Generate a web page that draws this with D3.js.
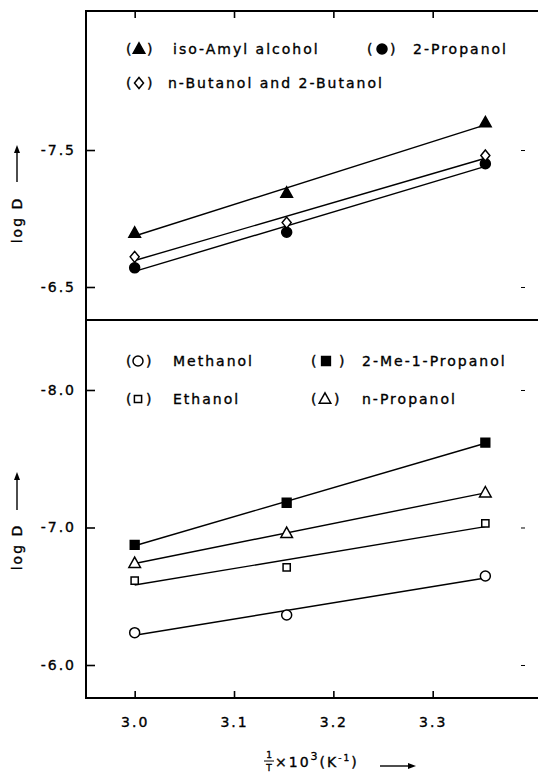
<!DOCTYPE html>
<html>
<head>
<meta charset="utf-8">
<script src="https://cdn.jsdelivr.net/npm/d3@7"></script>
<style>
  html, body { margin: 0; padding: 0; background: #fff; }
  svg { display: block; }
  text { font-family: "DejaVu Sans", sans-serif; fill: #000; stroke: #000; stroke-width: 0.35px; }
</style>
</head>
<body>
<svg id="chart" width="538" height="781"></svg>
<script>
// ---- data (x = 1/T x 10^3, y = log D) ----
const xValues = [3.0, 3.153, 3.353];

// upper panel
const isoAmyl   = [-6.894, -7.186, -7.70];
const propanol2 = [-6.64, -6.90, -7.40];
const butanols  = [-6.72, -6.97, -7.46];

// lower panel
const methanol  = [-6.235, -6.364, -6.647];
const ethanol   = [-6.613, -6.71, -7.03];
const nPropanol = [-6.74, -6.958, -7.253];
const meProp    = [-6.873, -7.18, -7.617];

const xTicks = [3.0, 3.1, 3.2, 3.3];
const xTickLabels = ["3.0", "3.1", "3.2", "3.3"];
const topYTicks = [-7.5, -6.5];
const topYTickLabels = ["-7.5", "-6.5"];
const botYTicks = [-8.0, -7.0, -6.0];
const botYTickLabels = ["-8.0", "-7.0", "-6.0"];

const topSeries = [
  {name: "iso-Amyl alcohol", values: isoAmyl, symbol: "triangle", fill: true},
  {name: "2-Propanol", values: propanol2, symbol: "circle", fill: true},
  {name: "n-Butanol and 2-Butanol", values: butanols, symbol: "diamond", fill: false}
];
const botSeries = [
  {name: "Methanol", values: methanol, symbol: "circle", fill: false},
  {name: "2-Me-1-Propanol", values: meProp, symbol: "square", fill: true},
  {name: "Ethanol", values: ethanol, symbol: "square", fill: false, small: true},
  {name: "n-Propanol", values: nPropanol, symbol: "triangle", fill: false}
];

// ---- layout ----
const svg = d3.select("#chart");
const L = 86, R = 538, T = 11, MID = 320, B = 698;

const x = d3.scaleLinear().domain([2.951, 3.406]).range([L, R]);
const yTop = d3.scaleLinear().domain([-8.515, -6.259]).range([T, MID]);
const yBot = d3.scaleLinear().domain([-8.509, -5.76]).range([MID, B]);

const FS = 14, LS = 2;

// ---- markers ----
function markerPath(sym, small) {
  const p = d3.path();
  if (sym === "triangle") {
    p.moveTo(0, -6.2); p.lineTo(5.8, 4.2); p.lineTo(-5.8, 4.2); p.closePath();
  } else if (sym === "diamond") {
    p.moveTo(0, -5.5); p.lineTo(4.5, 0); p.lineTo(0, 5.5); p.lineTo(-4.5, 0); p.closePath();
  } else if (sym === "square") {
    const h = small ? 3.6 : 4.4;
    p.rect(-h, -h, 2 * h, 2 * h);
  } else {
    p.arc(0, 0, 5, 0, 2 * Math.PI);
  }
  return p.toString();
}
function drawMarker(g, sym, fill, small, cx, cy) {
  g.append("path")
    .attr("d", markerPath(sym, small))
    .attr("transform", `translate(${cx},${cy})`)
    .attr("fill", fill ? "#000" : "#fff")
    .attr("stroke", "#000")
    .attr("stroke-width", 1.5);
}

// regression line from data
function fit(xs, ys) {
  const mx = d3.mean(xs), my = d3.mean(ys);
  let sxy = 0, sxx = 0;
  xs.forEach((v, i) => { sxy += (v - mx) * (ys[i] - my); sxx += (v - mx) * (v - mx); });
  const b = sxy / sxx;
  return v => my + b * (v - mx);
}

function drawPanel(series, y, yTicks, yTickLabels) {
  const g = svg.append("g");
  series.forEach(s => {
    const f = fit(xValues, s.values);
    const x0 = d3.min(xValues), x1 = d3.max(xValues);
    g.append("path")
      .attr("d", d3.line()([[x(x0), y(f(x0))], [x(x1), y(f(x1))]]))
      .attr("stroke", "#000").attr("stroke-width", 1.4).attr("fill", "none");
  });
  series.forEach(s => {
    s.values.forEach((v, i) => drawMarker(g, s.symbol, s.fill, s.small, x(xValues[i]), y(v)));
  });
  const ax = svg.append("g").attr("transform", `translate(${L},0)`)
    .call(d3.axisLeft(y).tickValues(yTicks).tickSize(-9).tickPadding(10)
      .tickFormat((d, i) => yTickLabels[i]));
  ax.select(".domain").remove();
  ax.selectAll("line").attr("stroke", "#000").attr("stroke-width", 1.6);
  ax.selectAll("text").attr("font-size", FS).attr("letter-spacing", LS)
    .attr("font-family", "DejaVu Sans, sans-serif");
  const ar = svg.append("g").attr("transform", `translate(525,0)`)
    .call(d3.axisRight(y).tickValues(yTicks).tickSize(-4).tickFormat(""));
  ar.select(".domain").remove();
  ar.selectAll("line").attr("stroke", "#000").attr("stroke-width", 1);
}

drawPanel(topSeries, yTop, topYTicks, topYTickLabels);
drawPanel(botSeries, yBot, botYTicks, botYTickLabels);

const axTop = svg.append("g").attr("transform", `translate(0,${T})`)
  .call(d3.axisTop(x).tickValues(xTicks).tickSize(-7).tickFormat(""));
axTop.select(".domain").remove();
axTop.selectAll("line").attr("stroke", "#000").attr("stroke-width", 1.6);

const axBot = svg.append("g").attr("transform", `translate(0,${B})`)
  .call(d3.axisBottom(x).tickValues(xTicks).tickSize(-7).tickPadding(19)
    .tickFormat((d, i) => xTickLabels[i]));
axBot.select(".domain").remove();
axBot.selectAll("line").attr("stroke", "#000").attr("stroke-width", 1.6);
axBot.selectAll("text").attr("font-size", FS).attr("letter-spacing", LS)
  .attr("font-family", "DejaVu Sans, sans-serif");

// frame
const frame = svg.append("g").attr("stroke", "#000").attr("fill", "none");
frame.append("line").attr("x1", L).attr("x2", L).attr("y1", T - 1).attr("y2", B + 1).attr("stroke-width", 2);
frame.append("line").attr("x1", L).attr("x2", R).attr("y1", T).attr("y2", T).attr("stroke-width", 2);
frame.append("line").attr("x1", L).attr("x2", R).attr("y1", MID).attr("y2", MID).attr("stroke-width", 2);
frame.append("line").attr("x1", L).attr("x2", R).attr("y1", B).attr("y2", B).attr("stroke-width", 2);

// ---- legends ----
function legendItem(s, px, sx, cpx, tx, baseline) {
  const g = svg.append("g");
  g.append("text").attr("x", px).attr("y", baseline).attr("font-size", FS).text("(");
  drawMarker(g, s.symbol, s.fill, s.small, sx, baseline - 5);
  g.append("text").attr("x", cpx).attr("y", baseline).attr("font-size", FS).text(")");
  g.append("text").attr("x", tx).attr("y", baseline).attr("font-size", FS)
    .attr("letter-spacing", LS).text(s.name);
}
legendItem(topSeries[0], 126, 139, 147, 173, 54);
legendItem(topSeries[1], 367, 382, 390, 413, 54);
legendItem(topSeries[2], 126, 139, 147, 168, 88);

legendItem(botSeries[0], 126, 138, 146, 173, 366);
legendItem(botSeries[1], 311, 326, 339, 362, 366);
legendItem(botSeries[2], 126, 138, 146, 173, 404);
legendItem(botSeries[3], 311, 325, 334, 362, 404);

// ---- y axis titles ----
function yTitle(cy, arrowTop, arrowBottom) {
  const g = svg.append("g");
  g.append("text")
    .attr("transform", `translate(22,${cy}) rotate(-90)`)
    .attr("text-anchor", "middle")
    .attr("font-size", FS).attr("letter-spacing", LS)
    .text("log D");
  g.append("line").attr("x1", 17).attr("x2", 17)
    .attr("y1", arrowBottom).attr("y2", arrowTop + 6)
    .attr("stroke", "#000").attr("stroke-width", 1.4);
  g.append("path")
    .attr("d", `M17,${arrowTop} L20,${arrowTop + 8} L14,${arrowTop + 8} Z`)
    .attr("fill", "#000");
}
yTitle(220, 145, 182);
yTitle(547, 472, 510);

// ---- x axis title ----
const xt = svg.append("g");
xt.append("text").attr("x", 269).attr("y", 758).attr("font-size", 9).attr("text-anchor", "middle").text("1");
xt.append("line").attr("x1", 264).attr("x2", 274).attr("y1", 761).attr("y2", 761)
  .attr("stroke", "#000").attr("stroke-width", 1);
xt.append("text").attr("x", 269).attr("y", 771).attr("font-size", 9).attr("text-anchor", "middle").text("T");
const main = xt.append("text").attr("x", 275).attr("y", 767).attr("font-size", FS).attr("letter-spacing", 2);
main.append("tspan").text("×10");
main.append("tspan").attr("dy", -7).attr("font-size", 11).text("3");
main.append("tspan").attr("dy", 7).text("(K");
main.append("tspan").attr("dy", -6).attr("font-size", 9).text("-1");
main.append("tspan").attr("dy", 6).text(")");
xt.append("line").attr("x1", 380).attr("x2", 410).attr("y1", 766).attr("y2", 766)
  .attr("stroke", "#000").attr("stroke-width", 1.4);
xt.append("path").attr("d", "M416,766 L408,763 L408,769 Z").attr("fill", "#000");
</script>
</body>
</html>
